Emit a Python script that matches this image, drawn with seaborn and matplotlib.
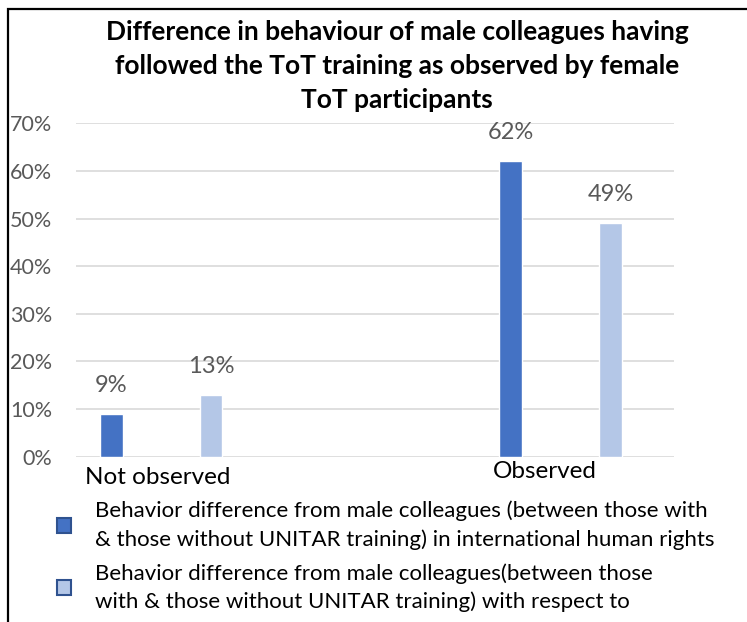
import matplotlib
matplotlib.use('Agg')
import matplotlib.pyplot as plt
import matplotlib.transforms as mtransforms
from matplotlib.patches import Rectangle
import seaborn as sns
import pandas as pd

# ---- data ----
categories = ['Not observed', 'Observed']
series_names = [
    'Behavior difference from male colleagues (between those with\n& those without UNITAR training) in international human rights',
    'Behavior difference from male colleagues(between those\nwith & those without UNITAR training) with respect to',
]
series1_values = [0.09, 0.62]
series2_values = [0.13, 0.49]
y_ticks = [0.0, 0.1, 0.2, 0.3, 0.4, 0.5, 0.6, 0.7]
y_tick_labels = ['0%', '10%', '20%', '30%', '40%', '50%', '60%', '70%']
title = ('Difference in behaviour of male colleagues having\n'
         'followed the ToT training as observed by female\n'
         'ToT participants')
colors = ['#4472C4', '#B4C7E7']

df = pd.DataFrame({
    'Category': categories * 2,
    'Series': [series_names[0]] * len(categories) + [series_names[1]] * len(categories),
    'Value': series1_values + series2_values,
})

sns.set_theme(style='white')
plt.rcParams['font.family'] = ['Lato', 'DejaVu Sans']

W, H = 747, 622
fig = plt.figure(figsize=(W / 100, H / 100), dpi=100)
ax = fig.add_axes([76 / W, 1 - 456.7 / H, (674 - 76) / W, (456.7 - 123.3) / H])

sns.barplot(data=df, x='Category', y='Value', hue='Series', order=categories,
            hue_order=series_names, palette=colors, saturation=1,
            width=0.5, gap=0.775, errorbar=None, ax=ax)

ax.set_xlim(-0.2135, 1.284)
ax.set_ylim(0, 0.7)
ax.set_yticks(y_ticks)
ax.set_yticklabels(y_tick_labels, fontsize=15.5, color='#595959')
ax.yaxis.grid(True, color='#D9D9D9', lw=1.2)
ax.xaxis.grid(False)
ax.set_axisbelow(True)
for s in ax.spines.values():
    s.set_visible(False)
ax.tick_params(axis='y', length=0, pad=17)
ax.tick_params(axis='x', length=0, pad=3)
ax.set_xlabel('')
ax.set_ylabel('')
ax.set_xticks(range(len(categories)))
ax.set_xticklabels(categories, fontsize=17.5, color='#000000')
offsets = [(-4, -6), (-16, 0)]
for lab, (dx, dy) in zip(ax.get_xticklabels(), offsets):
    lab.set_transform(lab.get_transform() + mtransforms.ScaledTranslation(dx / 100, dy / 100, fig.dpi_scale_trans))

for cont in ax.containers:
    ax.bar_label(cont, labels=[f'{v * 100:.0f}%' for v in cont.datavalues],
                 padding=13, fontsize=17, color='#595959')

# legend
sns.move_legend(ax, loc='upper left', bbox_to_anchor=(48 / W, 1 - 492 / H),
                bbox_transform=fig.transFigure, frameon=False, title=None,
                fontsize=16, handlelength=0.65, handleheight=0.65,
                handletextpad=1.05, labelspacing=0.62, borderaxespad=0)
leg = ax.get_legend()
for h in leg.legend_handles:
    h.set_edgecolor('#2F528F')
    h.set_linewidth(1.5)
for t in leg.get_texts():
    t.set_color('#000000')
    t.set_linespacing(1.45)

fig.text(397 / W, 1 - 20 / H, title, ha='center', va='top', fontsize=19,
         fontweight='bold', color='#000000', linespacing=1.5)

# outer frame
fig.add_artist(Rectangle((8 / W, -0.2), 1.5, 1 - 9 / H + 0.2, transform=fig.transFigure,
                         fill=False, ec='black', lw=1.6))

fig.savefig('out.png', dpi=100)
